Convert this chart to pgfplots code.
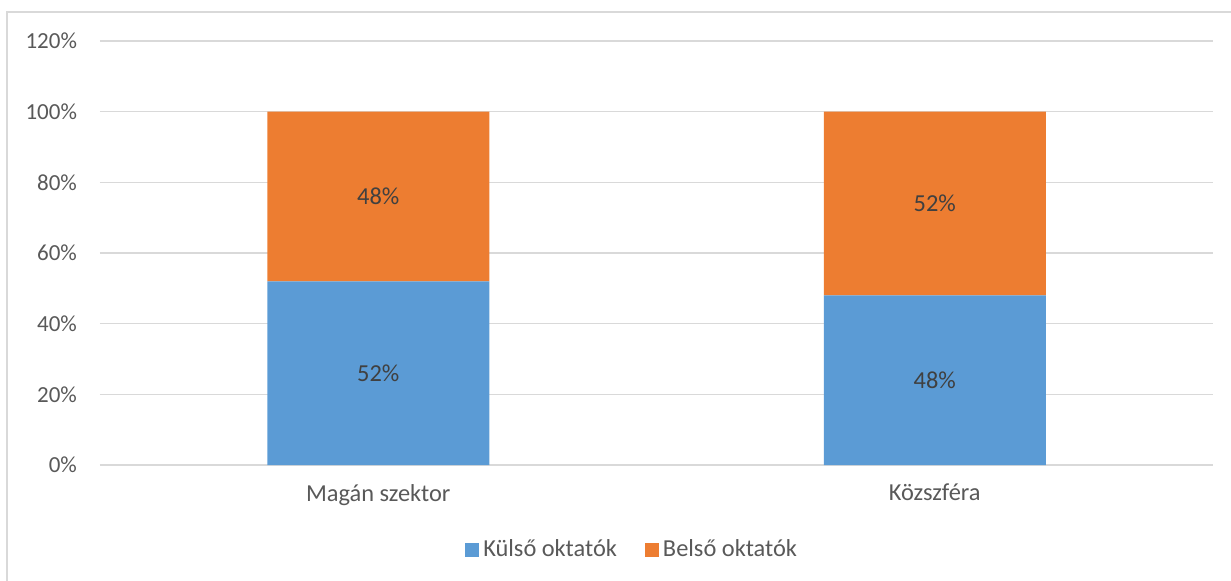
\documentclass[border=0pt]{standalone}
\usepackage{fontspec}
\setmainfont{Carlito}
\usepackage{pgfplots}
\pgfplotsset{compat=1.18}
\definecolor{cblue}{HTML}{5B9BD5}
\definecolor{corange}{HTML}{ED7D31}
\definecolor{gridc}{HTML}{D9D9D9}
\definecolor{ticktext}{HTML}{595959}
\definecolor{labeltext}{HTML}{404040}
\begin{document}
\begin{tikzpicture}
\useasboundingbox (-50pt,-57.5pt) rectangle (565.5pt,232.5pt);
\draw[gridc, line width=0.6pt] (-46.5pt,-60pt) -- (-46.5pt,226.5pt) -- (570pt,226.5pt);
\begin{axis}[
  at={(0,0)}, anchor=south west,
  scale only axis, width=556.5pt, height=212pt,
  xmin=-0.5, xmax=1.5, ymin=0, ymax=120,
  ybar stacked, bar width=111pt,
  xtick={0,1}, xticklabels={Magán szektor, Közszféra},
  ytick={0,20,40,60,80,100,120},
  yticklabels={0\%,20\%,40\%,60\%,80\%,100\%,120\%},
  ymajorgrids, grid style={gridc, line width=0.6pt},
  axis line style={draw=none},
  major tick length=0pt,
  tick label style={text=ticktext},
  yticklabel style={font=\fontsize{11.5}{13}\selectfont, xshift=-8pt},
  xticklabel style={font=\fontsize{12.2}{14}\selectfont, yshift=-6pt},
  legend style={at={(0.479,-0.2005)}, anchor=center, draw=none,
    legend columns=2, font=\fontsize{12.2}{14}\selectfont, text=ticktext,
    /tikz/every even column/.append style={column sep=12pt}},
  legend image code/.code={\fill[#1] (-0.5pt,-3.5pt) rectangle (6.5pt,3.5pt);},
]
\addplot[fill=cblue, draw=none] coordinates {(0,52) (1,48)};
\addplot[fill=corange, draw=none] coordinates {(0,48) (1,52)};
\legend{Külső oktatók, Belső oktatók}
\end{axis}
\begin{axis}[
  at={(0,0)}, anchor=south west,
  scale only axis, width=556.5pt, height=212pt,
  xmin=-0.5, xmax=1.5, ymin=0, ymax=120,
  hide axis,
  /pgf/number format/assume math mode=true,
]
\addplot[only marks, mark=none, point meta=explicit,
  nodes near coords={\pgfmathprintnumber{\pgfplotspointmeta}\%},
  every node near coord/.append style={anchor=center, font=\fontsize{12.2}{14}\selectfont, text=labeltext}]
  table[meta=m] {
x y m
0 26 52
0 76 48
1 24 48
1 74 52
};
\end{axis}
\end{tikzpicture}
\end{document}
